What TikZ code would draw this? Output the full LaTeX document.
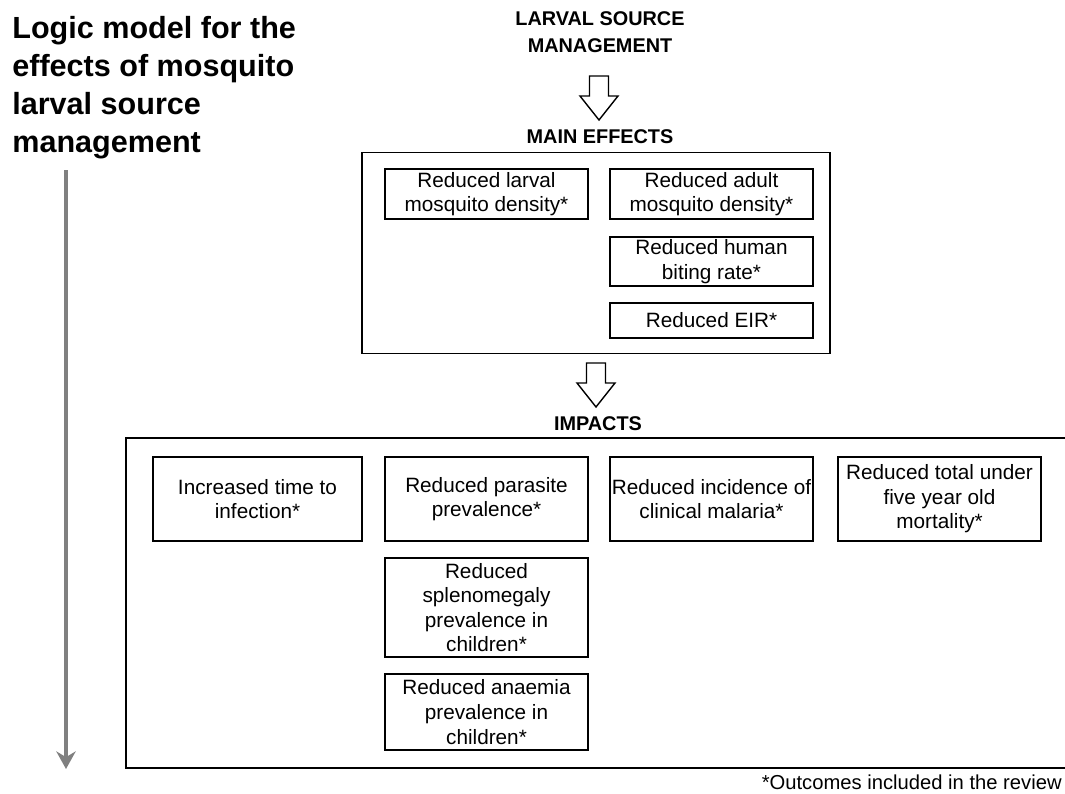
\documentclass[tikz,border=0pt]{standalone}
\usepackage{fontspec}
\setmainfont{Liberation Sans}
\usetikzlibrary{arrows.meta}

\begin{document}
\begin{tikzpicture}[x=0.02cm,y=-0.02cm,
        box/.style={draw,line width=0.8pt,align=center,minimum width=4.06cm,inner sep=0.4pt,font=\fontsize{11.8}{14}\selectfont},
        head/.style={font=\bfseries\fontsize{11.3}{15}\selectfont,align=center},
        hollow/.pic={\draw[line width=0.8pt] (-9.5,0) -- (9.5,0) -- (9.5,20) -- (19,20) -- (0,44) -- (-19,20) -- (-9.5,20) -- cycle;}]
        \clip (0,0) rectangle (1065,794);
        \node [anchor=north west,inner sep=0,align=left,font=\bfseries\fontsize{17.4}{21.6}\selectfont] (title) at (12,16) {Logic model for the\\effects of mosquito\\larval source\\management};
        \coordinate (top) at (66,170);
        \coordinate (bottom) at (66,769);
        \draw [gray,line width=2.3pt,-{Stealth[length=10pt,width=11pt]}] (top) -- (bottom);
        \node [head] (lsm) at (600,32) {LARVAL SOURCE\\MANAGEMENT};
        \pic at (599,76) {hollow};
        \node [head] (maineff) at (600,137) {MAIN EFFECTS};
        \node [draw,line width=0.8pt,minimum width=9.36cm,minimum height=4.02cm] (mainbox) at (596,253) {};
        \node [box,minimum height=1cm] (larval) at (486.5,194) {Reduced larval\\mosquito density*};
        \node [box,minimum height=1cm] (adult) at (711.5,194) {Reduced adult\\mosquito density*};
        \node [box,minimum height=0.98cm] (biting) at (711.5,261.5) {Reduced human\\biting rate*};
        \node [box,minimum height=0.7cm] (eir) at (711.5,320.5) {Reduced EIR*};
        \pic at (596,363) {hollow};
        \node [head] (impacts) at (598,424) {IMPACTS};
        \node [draw,line width=0.8pt,minimum width=19.2cm,minimum height=6.6cm] (impbox) at (606,603) {};
        \node [box,minimum height=1.68cm,minimum width=4.18cm] (time) at (257.5,499) {Increased time to\\infection*};
        \node [box,minimum height=1.68cm] (parasite) at (486.5,499) {Reduced parasite\\prevalence*};
        \node [box,minimum height=1.68cm] (clinical) at (711.5,499) {Reduced incidence of\\clinical malaria*};
        \node [box,minimum height=1.68cm] (mortality) at (939.5,499) {Reduced total under\\five year old\\mortality*};
        \node [box,minimum height=1.98cm] (spleen) at (486.5,607.5) {Reduced\\splenomegaly\\prevalence in\\children*};
        \node [box,minimum height=1.52cm] (anaemia) at (486.5,712) {Reduced anaemia\\prevalence in\\children*};
        \node [anchor=east,inner sep=0,font=\fontsize{11.5}{13}\selectfont] (note) at (1062,782) {*Outcomes included in the review};
    \end{tikzpicture}
\end{document}
